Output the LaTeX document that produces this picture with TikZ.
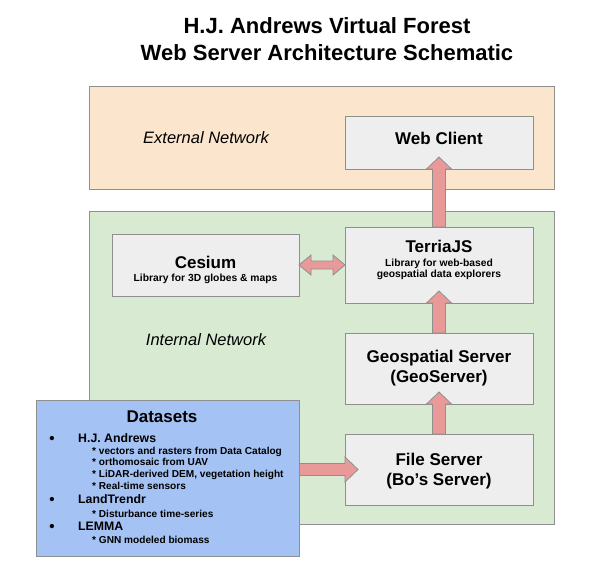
\documentclass[tikz,border=0pt]{standalone}
\usepackage{fontspec}
\setmainfont{Liberation Sans}
\usetikzlibrary{calc}
\definecolor{orangebg}{HTML}{FCE5CD}
\definecolor{greenbg}{HTML}{D9EAD3}
\definecolor{boxbg}{HTML}{EEEEEE}
\definecolor{bluebg}{HTML}{A4C2F4}
\definecolor{arrowfill}{HTML}{EA9999}
\definecolor{edge}{HTML}{8F8F8F}
\newcommand\fs[1]{\fontsize{#1}{#1}\selectfont}
\newcommand\blockup[2]{%
  \draw[arr] ($(#1.north)+(-6.5,0)$) -- ($(#2.south)+(-6.5,0)$) -- ($(#2.south)+(-12.5,0)$)
    -- ($(#2.south)+(0,-12)$) -- ($(#2.south)+(12.5,0)$) -- ($(#2.south)+(6.5,0)$)
    -- ($(#1.north)+(6.5,0)$) -- cycle;}
\tikzset{
  box/.style={draw=edge, line width=1pt, fill=boxbg, inner sep=0pt, outer sep=0pt},
  region/.style={draw=edge, line width=1pt, inner sep=0pt, outer sep=0pt},
  arr/.style={draw=edge, line width=0.8pt, fill=arrowfill, line join=miter},
  big/.style={font=\fs{17}\bfseries, anchor=base, inner sep=0pt},
  small/.style={font=\fs{10.3}\bfseries, anchor=base, inner sep=0pt},
  net/.style={font=\fs{16.5}\itshape, anchor=base, inner sep=0pt},
  item/.style={font=\fs{12.3}\bfseries, anchor=base west, inner sep=0pt},
  subitem/.style={font=\fs{10.1}\bfseries, anchor=base west, inner sep=0pt},
  bullet/.style={font=\fs{15}\bfseries, anchor=base, inner sep=0pt},
}
\begin{document}
\begin{tikzpicture}[x=1pt,y=-1pt]
\useasboundingbox (0,0) rectangle (596,566);
% title
\node[font=\fs{22}\bfseries, anchor=base, inner sep=0pt] (title1) at (327,33) {H.J. Andrews Virtual Forest};
\node[font=\fs{22}\bfseries, anchor=base, inner sep=0pt] (title2) at (327,60) {Web Server Architecture Schematic};
% regions
\node[region, fill=orangebg, minimum width=465pt, minimum height=103pt] (ext) at (321.5,137.5) {};
\node[region, fill=greenbg, minimum width=465pt, minimum height=313pt] (int) at (321.5,367.5) {};
\node[net] (extl) at (206,143) {External Network};
\node[net] (intl) at (206,345) {Internal Network};
% boxes
\node[box, minimum width=188pt, minimum height=53pt] (web) at (439,142.5) {};
\node[box, minimum width=187pt, minimum height=62pt] (cesium) at (205.5,265) {};
\node[box, minimum width=188pt, minimum height=76pt] (terria) at (439,265) {};
\node[box, minimum width=188pt, minimum height=71pt] (geo) at (439,368.5) {};
\node[box, minimum width=188pt, minimum height=71pt] (file) at (439,469.5) {};
% arrows
\blockup{terria}{web}
\blockup{geo}{terria}
\blockup{file}{geo}
\coordinate (dsa) at (299,469.5);
\draw[arr] ($(dsa)+(0,-6)$) -- ($(file.west)+(0,-6)$) -- ($(file.west)+(0,-12.5)$) -- ($(file.west)+(13,0)$)
  -- ($(file.west)+(0,12.5)$) -- ($(file.west)+(0,6)$) -- ($(dsa)+(0,6)$) -- cycle;
\draw[arr] (cesium.east) -- ($(cesium.east)+(12,-10)$) -- ($(cesium.east)+(12,-4)$) -- ($(terria.west)+(-12,-4)$)
  -- ($(terria.west)+(-12,-10)$) -- (terria.west) -- ($(terria.west)+(-12,10)$) -- ($(terria.west)+(-12,4)$)
  -- ($(cesium.east)+(12,4)$) -- ($(cesium.east)+(12,10)$) -- cycle;
% datasets box
\node[region, fill=bluebg, minimum width=263pt, minimum height=156pt] (datasets) at (167.5,478) {};
% box texts
\node[big] (webt) at (439,144) {Web Client};
\node[big] (cest) at (205.5,268) {Cesium};
\node[small] (cess) at (205.5,281) {Library for 3D globes \& maps};
\node[big] (tert) at (439,252) {TerriaJS};
\node[small] (ters1) at (439,266) {Library for web-based};
\node[small] (ters2) at (439,277.5) {geospatial data explorers};
\node[big] (geot1) at (439,362) {Geospatial Server};
\node[big] (geot2) at (439,382) {(GeoServer)};
\node[big] (filet1) at (439,465) {File Server};
\node[big] (filet2) at (439,485) {(Bo’s Server)};
% datasets text
\node[big] (dst) at (162,422) {Datasets};
\node[bullet] (b1) at (52,443) {•};
\node[item] (i1) at (78,442) {H.J. Andrews};
\node[subitem] (s1) at (92,454) {* vectors and rasters from Data Catalog};
\node[subitem] (s2) at (92,465.5) {* orthomosaic from UAV};
\node[subitem] (s3) at (92,477.5) {* LiDAR-derived DEM, vegetation height};
\node[subitem] (s4) at (92,489.5) {* Real-time sensors};
\node[bullet] (b2) at (52,504) {•};
\node[item] (i2) at (78,503) {LandTrendr};
\node[subitem] (s5) at (92,517) {* Disturbance time-series};
\node[bullet] (b3) at (52,531) {•};
\node[item] (i3) at (78,530) {LEMMA};
\node[subitem] (s6) at (92,543) {* GNN modeled biomass};
\end{tikzpicture}
\end{document}
